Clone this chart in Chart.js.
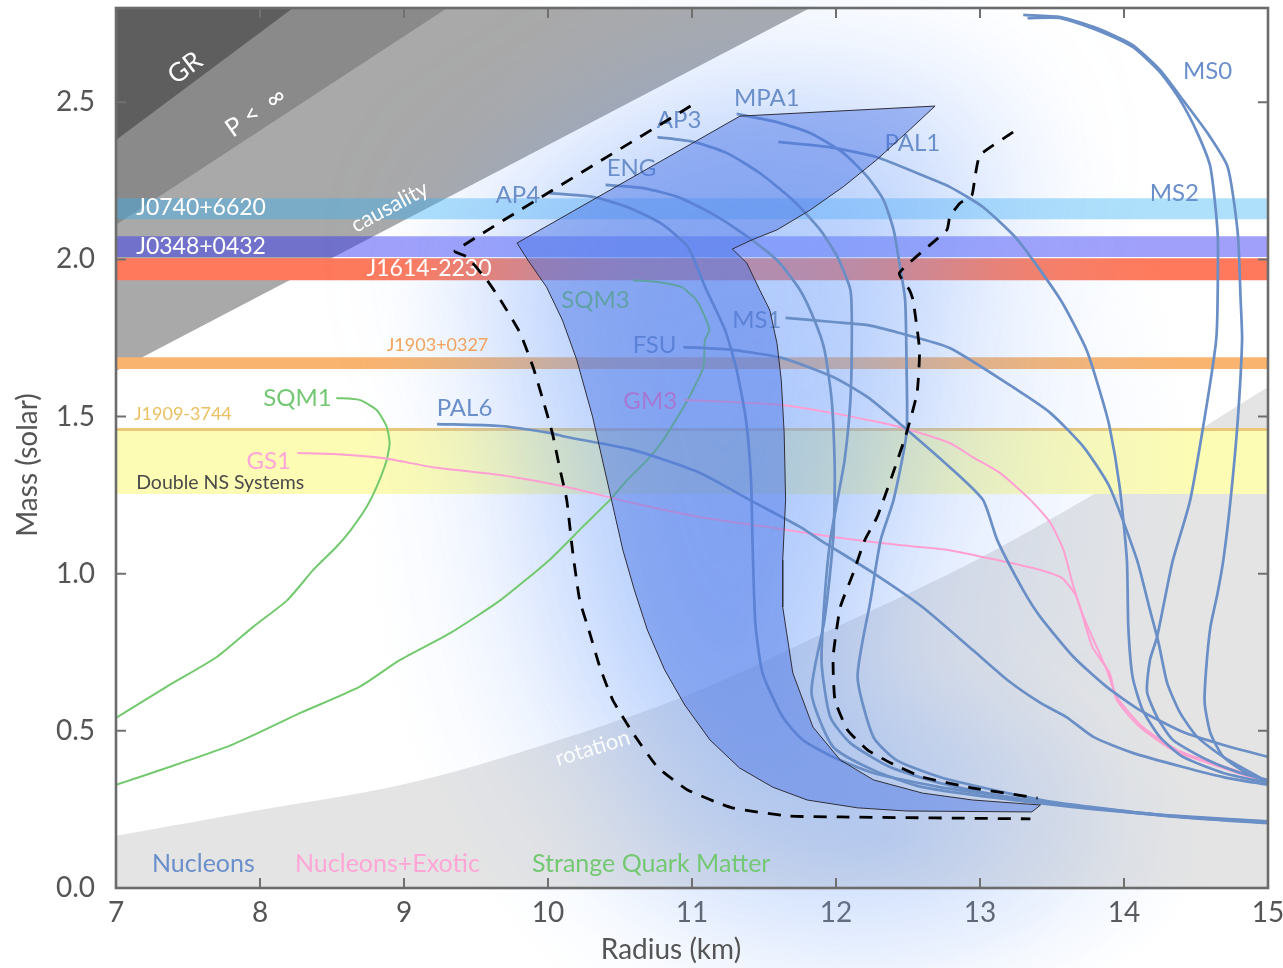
<!DOCTYPE html>
<html>
<head>
<meta charset="utf-8">
<title>Neutron star mass-radius relations</title>
<script src="https://cdn.jsdelivr.net/npm/chart.js@4.4.1/dist/chart.umd.min.js"></script>
<style>
  html, body { margin: 0; padding: 0; background: #ffffff; }
  #wrap { width: 1283px; height: 968px; }
</style>
</head>
<body>
<div id="wrap"><canvas id="mr" width="1283" height="968"></canvas></div>
<script>
const FONT = "Lato, 'Open Sans', 'DejaVu Sans', sans-serif";

// ---- axis ticks ----
const radiusTicks = [7, 8, 9, 10, 11, 12, 13, 14, 15];
const massTicks = [0, 0.5, 1.0, 1.5, 2.0, 2.5];

// ---- excluded regions: boundary lines [radius km, mass Msun] ----
const grLimit = [[7, 2.38], [8.23, 2.8]];
const finitePressure = [[7, 2.11], [9.3, 2.8]];
const causalLimit = [[7, 1.645], [11.82, 2.8]];
const rotationR = [7, 8, 9, 10, 11, 12, 13, 14, 15];
const rotationM = [0.166, 0.248, 0.33, 0.46, 0.62, 0.83, 1.05, 1.31, 1.594];

// ---- measured pulsar masses (Msun) ----
const bandNames = ['J0740+6620', 'J0348+0432', 'J1614-2230', 'J1903+0327', 'J1909-3744', 'Double NS Systems'];
const bandLow  = [2.128, 2.008, 1.934, 1.651, 1.454, 1.254];
const bandHigh = [2.195, 2.074, 2.004, 1.689, 1.464, 1.454];

// ---- mass-radius curves: nucleons ----
const ms0 = [[13.30,2.778],[13.56,2.771],[13.81,2.736],[14.06,2.682],[14.25,2.603],[14.41,2.507],[14.58,2.402],[14.72,2.294],[14.79,2.084],[14.81,1.871],[14.82,1.744],[14.79,1.489],[14.74,1.235],[14.69,1.044],[14.65,0.939],[14.60,0.830],[14.57,0.694],[14.56,0.589],[14.60,0.493],[14.69,0.417],[14.85,0.366],[15.0,0.337]];
const ms2 = [[13.33,2.768],[13.56,2.768],[13.81,2.730],[14.06,2.676],[14.25,2.596],[14.39,2.507],[14.51,2.402],[14.60,2.294],[14.65,2.084],[14.65,1.871],[14.64,1.744],[14.58,1.553],[14.46,1.235],[14.34,1.044],[14.30,0.958],[14.23,0.799],[14.18,0.725],[14.16,0.624],[14.23,0.544],[14.34,0.471],[14.58,0.407],[14.81,0.366],[15.0,0.344]];
const ms1 = [[11.65,1.814],[11.98,1.801],[12.22,1.791],[12.44,1.766],[12.79,1.718],[13.26,1.584],[13.49,1.511],[13.72,1.403],[13.90,1.276],[14.09,1.044],[14.18,0.885],[14.24,0.780],[14.30,0.652],[14.39,0.557],[14.51,0.480],[14.69,0.417],[15.0,0.337]];
const pal1 = [[11.60,2.374],[11.94,2.358],[12.28,2.326],[12.63,2.262],[12.79,2.231],[13.02,2.167],[13.26,2.063],[13.56,1.871],[13.74,1.712],[13.83,1.584],[13.90,1.467],[13.97,1.276],[14.02,1.044],[14.03,0.830],[14.06,0.671],[14.13,0.566],[14.25,0.480],[14.41,0.417],[14.69,0.366],[15.0,0.334]];
const mpa1 = [[11.31,2.463],[11.59,2.437],[11.82,2.402],[12.05,2.339],[12.22,2.262],[12.33,2.189],[12.40,2.094],[12.44,1.989],[12.48,1.871],[12.49,1.658],[12.49,1.448],[12.40,1.235],[12.31,1.107],[12.24,0.916],[12.15,0.671],[12.26,0.480],[12.42,0.407],[12.72,0.353],[13.19,0.302],[13.56,0.270],[14.34,0.228],[15.0,0.208]];
const ap3 = [[10.76,2.389],[11.01,2.374],[11.24,2.339],[11.47,2.275],[11.70,2.189],[11.89,2.094],[12.01,2.008],[12.10,1.903],[12.11,1.775],[12.10,1.553],[12.06,1.362],[12.01,1.235],[11.96,1.107],[11.92,0.916],[11.90,0.716],[11.96,0.544],[12.10,0.461],[12.375,0.385],[12.72,0.334],[13.19,0.290],[13.56,0.266],[14.34,0.227],[15.0,0.206]];
const eng = [[10.40,2.237],[10.66,2.227],[10.90,2.199],[11.13,2.148],[11.35,2.084],[11.59,1.998],[11.75,1.903],[11.85,1.807],[11.92,1.712],[11.97,1.553],[11.99,1.362],[11.99,1.235],[11.98,1.107],[11.92,0.853],[11.83,0.620],[11.98,0.449],[12.26,0.375],[12.60,0.321],[13.56,0.262],[14.34,0.229],[15.0,0.210]];
const ap4 = [[10.01,2.211],[10.31,2.199],[10.55,2.167],[10.78,2.116],[10.97,2.040],[11.10,1.903],[11.23,1.775],[11.31,1.648],[11.375,1.489],[11.41,1.298],[11.42,1.107],[11.44,0.843],[11.49,0.684],[11.63,0.544],[11.77,0.471],[11.98,0.417],[12.26,0.366],[12.72,0.321],[13.19,0.290],[13.42,0.272],[13.83,0.252],[14.34,0.230],[15.0,0.212]];
const fsu = [[10.94,1.721],[11.28,1.712],[11.63,1.686],[11.98,1.626],[12.22,1.562],[12.44,1.479],[12.79,1.339],[13.02,1.235],[13.12,1.107],[13.30,0.948],[13.42,0.862],[13.65,0.735],[13.88,0.640],[14.11,0.566],[14.41,0.496],[14.69,0.455],[15.0,0.417]];
const pal6 = [[9.23,1.476],[9.67,1.470],[10.01,1.448],[10.13,1.435],[10.59,1.394],[11.06,1.320],[11.40,1.235],[11.75,1.149],[11.89,1.107],[12.26,1.002],[12.60,0.894],[12.95,0.757],[13.19,0.662],[13.42,0.589],[13.60,0.544],[13.79,0.480],[14.06,0.430],[14.41,0.385],[14.69,0.353],[15.0,0.328]];

// ---- nucleons + exotic matter ----
const gs1 = [[8.26,1.384],[8.51,1.381],[8.85,1.368],[9.20,1.339],[9.67,1.314],[10.13,1.276],[10.59,1.225],[11.06,1.180],[11.52,1.149],[11.98,1.117],[12.44,1.091],[12.79,1.075],[13.42,1.012],[13.57,0.986],[13.67,0.926],[13.78,0.767],[13.90,0.684],[13.95,0.598],[14.11,0.512],[14.34,0.439],[14.58,0.398],[15.0,0.334]];
const gm3 = [[10.94,1.553],[11.28,1.546],[11.63,1.537],[11.98,1.511],[12.22,1.489],[12.44,1.467],[12.79,1.416],[12.95,1.371],[13.14,1.320],[13.35,1.235],[13.49,1.161],[13.58,1.075],[13.65,0.958],[13.72,0.862],[13.88,0.694],[13.95,0.608],[14.13,0.512],[14.37,0.439],[14.60,0.401],[15.0,0.340]];

// ---- strange quark matter ----
const sqm1 = [[8.53,1.559],[8.69,1.553],[8.81,1.521],[8.88,1.467],[8.90,1.416],[8.88,1.362],[8.81,1.276],[8.74,1.212],[8.63,1.139],[8.53,1.085],[8.37,1.012],[8.19,0.916],[7.95,0.830],[7.70,0.735],[7.35,0.640],[7.0,0.541]];
const sqm3 = [[10.59,1.934],[10.76,1.928],[10.93,1.912],[10.98,1.893],[11.03,1.871],[11.09,1.817],[11.12,1.775],[11.09,1.744],[11.08,1.658],[11.03,1.607],[10.97,1.553],[10.90,1.499],[10.80,1.425],[10.69,1.362],[10.55,1.298],[10.43,1.235],[10.24,1.149],[10.01,1.044],[9.67,0.916],[9.32,0.811],[8.97,0.725],[8.69,0.640],[8.28,0.557],[8.00,0.496],[7.77,0.449],[7.35,0.382],[7.0,0.328]];

// ---- constrained mass-radius band (closed outline) ----
const allowedBand = [[9.785,2.052],[11.333,2.456],[12.688,2.488],[12.51,2.412],[12.28,2.316],[12.05,2.231],[11.82,2.157],[11.59,2.094],[11.42,2.063],[11.28,2.033],[11.38,1.989],[11.47,1.903],[11.54,1.839],[11.59,1.734],[11.62,1.616],[11.64,1.448],[11.65,1.235],[11.63,1.044],[11.63,0.894],[11.70,0.684],[11.84,0.512],[12.03,0.407],[12.26,0.344],[12.60,0.302],[12.95,0.280],[13.42,0.264],[13.36,0.242],[12.49,0.245],[12.15,0.255],[11.80,0.280],[11.56,0.321],[11.33,0.382],[11.125,0.471],[10.95,0.582],[10.81,0.694],[10.69,0.821],[10.60,0.948],[10.52,1.075],[10.43,1.257],[10.31,1.499],[10.20,1.680],[10.10,1.807],[9.99,1.912],[9.86,1.998],[9.785,2.052]];

// ---- wider (dashed) limits ----
const dashLo = [[10.99,2.488],[9.354,2.027],[9.438,2.008],[9.576,1.934],[9.67,1.871],[9.806,1.766],[9.896,1.658],[9.965,1.553],[10.03,1.448],[10.08,1.339],[10.13,1.235],[10.17,1.075],[10.22,0.916],[10.29,0.811],[10.36,0.703],[10.45,0.598],[10.59,0.493],[10.76,0.385],[10.97,0.312],[11.28,0.255],[11.68,0.229],[12.03,0.226],[13.35,0.220]];
const dashHi = [[13.23,2.405],[13.00,2.332],[12.965,2.262],[12.944,2.205],[12.86,2.179],[12.79,2.135],[12.77,2.094],[12.44,1.957],[12.51,1.903],[12.535,1.871],[12.58,1.712],[12.563,1.575],[12.49,1.448],[12.396,1.320],[12.285,1.180],[12.20,1.107],[12.12,1.002],[12.03,0.894],[11.98,0.735],[11.993,0.598],[12.08,0.503],[12.22,0.439],[12.38,0.398],[12.60,0.353],[12.95,0.318],[13.40,0.286]];

// ---- label anchors (radius, mass) ----
const eosNames = ['MS0','MS2','MPA1','AP3','PAL1','ENG','AP4','MS1','FSU','PAL6','GM3','GS1','SQM3','SQM1'];
const eosKinds = ['n','n','n','n','n','n','n','n','n','n','x','x','q','q'];
const eosLabelAt = [[14.58,2.599],[14.35,2.211],[11.52,2.514],[10.91,2.444],[12.53,2.371],[10.58,2.291],[9.79,2.205],[11.45,1.807],[10.74,1.728],[9.42,1.527],[10.71,1.549],[8.06,1.359],[10.33,1.871],[8.26,1.559]];

// ---- styles ----
const kindLine  = { n: '#6a8ec6', x: '#ff9fd2', q: '#73c96d' };
const kindText  = { n: '#6b8fcb', x: '#ffa6d6', q: '#74c874' };
const kindWidth = { n: 2.7, x: 2.0, q: 2.0 };
const bandFill = ['rgba(52,177,245,0.40)', 'rgba(44,44,244,0.45)', '#ff7a5c', '#f9b46f', '#ebc878', '#fdfcb5'];

const pts = arr => arr.map(([x, y]) => ({ x, y }));

const curves = [
  ['MS0', ms0, 'n'], ['MS2', ms2, 'n'], ['MS1', ms1, 'n'], ['PAL1', pal1, 'n'],
  ['MPA1', mpa1, 'n'], ['AP3', ap3, 'n'], ['ENG', eng, 'n'], ['AP4', ap4, 'n'],
  ['FSU', fsu, 'n'], ['PAL6', pal6, 'n'], ['GS1', gs1, 'x'], ['GM3', gm3, 'x'],
  ['SQM1', sqm1, 'q'], ['SQM3', sqm3, 'q']
];

const datasets = [];
const area = (label, data, fill, color, order, tension = 0) =>
  ({ label, data, fill, backgroundColor: color, borderWidth: 0, pointRadius: 0, showLine: true, tension, order });

datasets.push(area('rotation', rotationR.map((r, i) => ({ x: r, y: rotationM[i] })), 'start', '#e4e4e4', 60, 0.35));
datasets.push(area('causality', pts(causalLimit), 'end', '#a9a9a9', 59));
datasets.push(area('finite pressure', pts(finitePressure), 'end', '#8a8a8a', 58));
datasets.push(area('GR', pts(grLimit), 'end', '#5e5e5e', 57));
bandNames.forEach((name, i) => {
  datasets.push(area(name, [{ x: 7, y: bandLow[i] }, { x: 15, y: bandLow[i] }], { value: bandHigh[i] }, bandFill[i], 50 - i));
});
datasets.push({ label: 'glowLayer', data: [], order: 40 });
curves.forEach(([name, data, kind]) => {
  datasets.push({ label: name, data: pts(data), showLine: true, fill: false, pointRadius: 0,
    borderColor: kindLine[kind], borderWidth: kindWidth[kind], tension: 0.2, order: 20 });
});
datasets.push({ label: 'textLayer', data: [], order: 15 });
datasets.push({ label: 'allowed', data: pts(allowedBand), showLine: true, fill: 'shape', pointRadius: 0,
  backgroundColor: 'rgba(75,115,228,0.46)', borderColor: '#2f2f3a', borderWidth: 1, tension: 0, order: 10 });
datasets.push({ label: 'lower dashed', data: pts(dashLo), showLine: true, fill: false, pointRadius: 0,
  borderColor: '#000', borderWidth: 2.8, borderDash: [13, 10], tension: 0.15, order: 5 });
datasets.push({ label: 'upper dashed', data: pts(dashHi), showLine: true, fill: false, pointRadius: 0,
  borderColor: '#000', borderWidth: 2.8, borderDash: [13, 10], tension: 0.15, order: 5 });

function X(chart, v) { return chart.scales.x.getPixelForValue(v); }
function Y(chart, v) { return chart.scales.y.getPixelForValue(v); }

function text(ctx, s, x, y, size, color, align = 'center', rot = 0, weight = '') {
  ctx.save();
  ctx.translate(x, y);
  ctx.rotate(rot * Math.PI / 180);
  ctx.font = `${weight} ${size}px ${FONT}`;
  ctx.fillStyle = color;
  ctx.textAlign = align;
  ctx.textBaseline = 'middle';
  ctx.fillText(s, 0, 0);
  ctx.restore();
}

function ellipseGlow(ctx, chart, r, m, dr, dm, stops) {
  const cx = X(chart, r), cy = Y(chart, m);
  const rx = X(chart, r + dr) - cx, ry = Y(chart, m - dm) - cy;
  ctx.save();
  ctx.translate(cx, cy);
  ctx.scale(1, ry / rx);
  const g = ctx.createRadialGradient(0, 0, 0, 0, 0, rx);
  stops.forEach(([p, c]) => g.addColorStop(p, c));
  ctx.fillStyle = g;
  ctx.fillRect(-rx, -rx, 2 * rx, 2 * rx);
  ctx.restore();
}

function drawGlow(chart) {
  const ctx = chart.ctx;
  // broad halo around the whole candidate region
  ellipseGlow(ctx, chart, 11.6, 1.25, 2.9, 1.85, [
    [0, 'rgba(120,165,250,0.22)'], [0.6, 'rgba(140,180,252,0.13)'], [1, 'rgba(170,200,255,0)']]);
  // soft halo following the dashed envelope
  ctx.save();
  ctx.filter = 'blur(75px)';
  ctx.fillStyle = 'rgba(105,155,250,0.44)';
  ctx.beginPath();
  dashLo.forEach(([r, m], i) => i ? ctx.lineTo(X(chart, r), Y(chart, m)) : ctx.moveTo(X(chart, r), Y(chart, m)));
  dashHi.slice().reverse().forEach(([r, m]) => ctx.lineTo(X(chart, r), Y(chart, m)));
  ctx.closePath();
  ctx.fill();
  ctx.restore();
  // extra glow at the low-mass end
  ellipseGlow(ctx, chart, 12.3, 0.15, 2.3, 0.6, [
    [0, 'rgba(120,165,250,0.28)'], [0.6, 'rgba(140,180,250,0.14)'], [1, 'rgba(170,200,255,0)']]);
}

function drawLabels(chart) {
  const ctx = chart.ctx;
  // excluded-region names
  text(ctx, 'GR', X(chart, 7.48), Y(chart, 2.609), 26, '#ffffff', 'center', -37);
  text(ctx, 'P <  \u221E', X(chart, 7.97), Y(chart, 2.469), 25, '#ffffff', 'center', -35);
  text(ctx, 'causality', X(chart, 8.90), Y(chart, 2.167), 22, '#ffffff', 'center', -28);
  text(ctx, 'rotation', X(chart, 10.31), Y(chart, 0.445), 22, 'rgba(255,255,255,0.9)', 'center', -17);
  // pulsar bands
  text(ctx, bandNames[0], X(chart, 7.14), Y(chart, 2.164), 23, '#ffffff', 'left');
  text(ctx, bandNames[1], X(chart, 7.14), Y(chart, 2.040), 23, '#ffffff', 'left');
  text(ctx, bandNames[2], X(chart, 8.74), Y(chart, 1.972), 23, '#ffffff', 'left');
  text(ctx, bandNames[3], X(chart, 8.88), Y(chart, 1.728), 18, '#f2a35c', 'left');
  text(ctx, bandNames[4], X(chart, 7.125), Y(chart, 1.508), 18, '#ebc060', 'left');
  text(ctx, bandNames[5], X(chart, 7.14), Y(chart, 1.289), 19.5, '#4a4a4a', 'left');
  // equation-of-state names
  eosNames.forEach((n, i) => {
    const color = n === 'GM3' ? '#f27cc4' : kindText[eosKinds[i]];
    text(ctx, n, X(chart, eosLabelAt[i][0]), Y(chart, eosLabelAt[i][1]), 24, color, 'center');
  });
  // families
  text(ctx, 'Nucleons', X(chart, 7.25), Y(chart, 0.076), 25, kindText.n, 'left');
  text(ctx, 'Nucleons+Exotic', X(chart, 8.243), Y(chart, 0.076), 25, kindText.x, 'left');
  text(ctx, 'Strange Quark Matter', X(chart, 9.889), Y(chart, 0.076), 25, kindText.q, 'left');
}

function drawFrame(chart) {
  const ctx = chart.ctx, a = chart.chartArea, t = 10;
  ctx.save();
  ctx.strokeStyle = '#707070';
  ctx.lineWidth = 2;
  ctx.beginPath();
  radiusTicks.forEach(v => {
    const x = X(chart, v);
    ctx.moveTo(x, a.bottom); ctx.lineTo(x, a.bottom - t);
    ctx.moveTo(x, a.top); ctx.lineTo(x, a.top + t);
  });
  massTicks.forEach(v => {
    const y = Y(chart, v);
    ctx.moveTo(a.left, y); ctx.lineTo(a.left + t, y);
    ctx.moveTo(a.right, y); ctx.lineTo(a.right - t, y);
  });
  ctx.stroke();
  ctx.lineWidth = 2.6;
  ctx.strokeStyle = '#6c6c6c';
  ctx.strokeRect(a.left, a.top, a.right - a.left, a.bottom - a.top);
  ctx.restore();
  text(ctx, 'Radius (km)', X(chart, 10.854), a.bottom + 62, 28, '#555555', 'center');
  text(ctx, 'Mass (solar)', a.left - 88, Y(chart, 1.346), 28, '#555555', 'center', -90);
}

const layers = {
  id: 'layers',
  afterDatasetDraw(chart, args) {
    const tag = chart.data.datasets[args.index].label;
    if (tag === 'glowLayer') drawGlow(chart);
    if (tag === 'textLayer') drawLabels(chart);
  },
  afterDraw(chart) { drawFrame(chart); }
};

new Chart(document.getElementById('mr'), {
  type: 'scatter',
  data: { datasets },
  options: {
    responsive: false,
    devicePixelRatio: 1,
    animation: false,
    events: [],
    layout: { padding: { top: 8, right: 15, left: 0, bottom: 0 } },
    plugins: { legend: { display: false }, tooltip: { enabled: false } },
    scales: {
      x: {
        type: 'linear', min: 7, max: 15, z: 1,
        grid: { display: false, drawTicks: false }, border: { display: false },
        ticks: { font: { family: FONT, size: 28 }, color: '#555555', padding: 8, includeBounds: false, callback: v => String(v) },
        afterBuildTicks: s => { s.ticks = radiusTicks.map(v => ({ value: v })); },
        afterFit: s => { s.height = 80; s.paddingLeft = 0; s.paddingRight = 0; }
      },
      y: {
        type: 'linear', min: 0, max: 2.8, z: 1,
        grid: { display: false, drawTicks: false }, border: { display: false },
        ticks: { font: { family: FONT, size: 28 }, color: '#555555', padding: 21, includeBounds: false, callback: v => v.toFixed(1) },
        afterBuildTicks: s => { s.ticks = massTicks.map(v => ({ value: v })); },
        afterFit: s => { s.width = 116; s.paddingTop = 0; s.paddingBottom = 0; }
      }
    }
  },
  plugins: [layers]
});
</script>
</body>
</html>
